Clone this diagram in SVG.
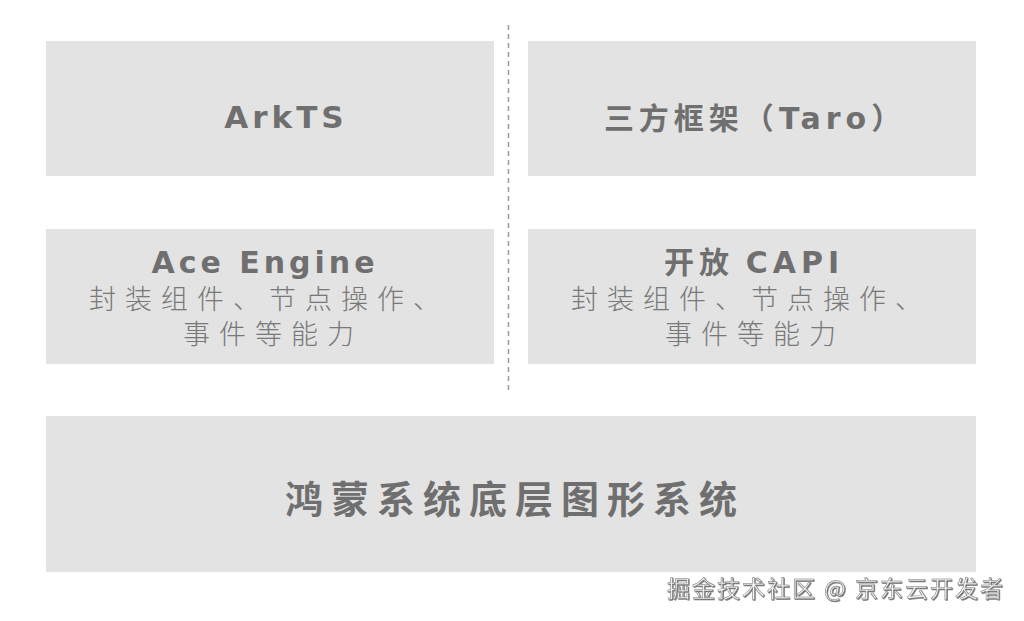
<svg xmlns="http://www.w3.org/2000/svg" width="1024" height="621" viewBox="0 0 1024 621">
<defs>
<filter id="emb" x="-5%" y="-30%" width="110%" height="160%">
<feDropShadow dx="0.8" dy="0.8" stdDeviation="0.4" flood-color="#333" flood-opacity="0.8"/>
</filter>
<style>
.box{fill:#e3e3e3}
.t{font-family:"DejaVu Sans","Noto Sans CJK SC",sans-serif;font-weight:bold;fill:#6f6f6f;text-anchor:middle}
.tc{font-family:"Noto Sans CJK SC",sans-serif;font-weight:bold;fill:#6f6f6f;text-anchor:middle}
.d{font-family:"Liberation Sans","Noto Sans CJK SC",sans-serif;font-weight:300;fill:#787878;text-anchor:middle;font-size:27px;letter-spacing:9px}
.wm{font-family:"Noto Sans CJK SC",sans-serif;font-size:23px;fill:#f2f2f2;stroke:#777;stroke-width:0.5;text-anchor:end;letter-spacing:2px}
</style>
</defs>
<rect width="1024" height="621" fill="#ffffff"/>
<g id="connectors">
<line x1="508.5" y1="25" x2="508.5" y2="390" stroke="#9a9a9a" stroke-width="1.5" stroke-dasharray="5 4"/>
</g>
<g id="arkts">
<rect class="box" x="46" y="41" width="448" height="135"/>
<text class="t" x="286" y="128" font-size="31" letter-spacing="4">ArkTS</text>
</g>
<g id="taro">
<rect class="box" x="528" y="41" width="448" height="135"/>
<text class="tc" x="755" y="129" font-size="30" letter-spacing="5">三方框架（<tspan font-family="DejaVu Sans">Taro</tspan>）</text>
</g>
<g id="ace">
<rect class="box" x="46" y="229" width="448" height="135"/>
<text class="t" x="265" y="273" font-size="30" letter-spacing="4">Ace Engine</text>
<text class="d" x="269" y="309">封装组件、节点操作、</text>
<text class="d" x="273" y="344">事件等能力</text>
</g>
<g id="capi">
<rect class="box" x="528" y="229" width="448" height="135"/>
<text class="tc" x="754" y="273" font-size="30" letter-spacing="5">开放 <tspan font-family="DejaVu Sans">CAPI</tspan></text>
<text class="d" x="751" y="309">封装组件、节点操作、</text>
<text class="d" x="755" y="344">事件等能力</text>
</g>
<g id="graphics">
<rect class="box" x="46" y="416" width="930" height="156"/>
<text class="tc" x="515" y="513" font-size="38" letter-spacing="8">鸿蒙系统底层图形系统</text>
</g>
<text class="wm" x="1005" y="597" filter="url(#emb)">掘金技术社区 @ 京东云开发者</text>
</svg>
